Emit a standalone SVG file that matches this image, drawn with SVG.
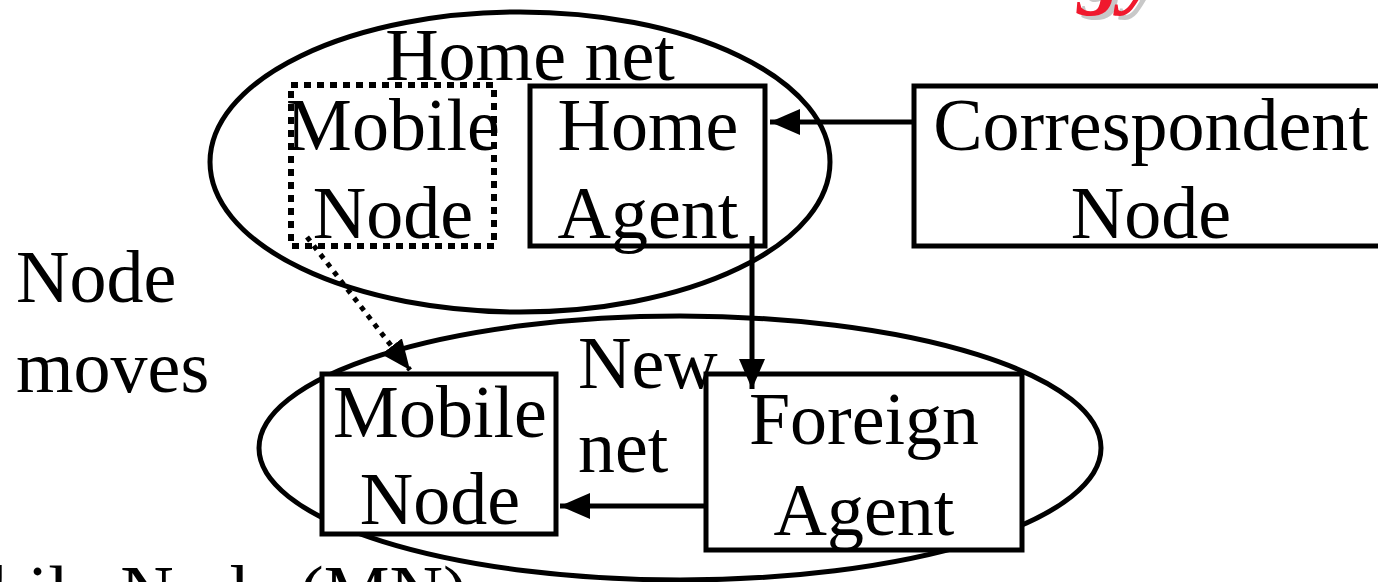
<svg xmlns="http://www.w3.org/2000/svg" width="1378" height="582" viewBox="0 0 1378 582">
<style>
.t{font-family:"Liberation Serif","Times New Roman",serif;font-size:74px;fill:#000}
.m{text-anchor:middle}
.b{fill:#fff;stroke:#000;stroke-width:5}
.e{fill:none;stroke:#000;stroke-width:5}
.c{fill:none;stroke:#000;stroke-width:5}
.r{font-family:"Liberation Serif","Times New Roman",serif;font-size:88px;font-weight:bold;font-style:italic}
</style>
<defs>
<marker id="a" viewBox="0 0 30 26" refX="30" refY="13" markerWidth="30" markerHeight="26" markerUnits="userSpaceOnUse" orient="auto">
<path d="M0,0 L30,13 L0,26 z" fill="#000"/>
</marker>
</defs>
<g id="title">
<text class="r" x="1083" y="1" fill="#c8c8c8">gy</text>
<text class="r" x="1078" y="-3" fill="#f0192d">gy</text>
</g>
<g id="home-net">
<ellipse class="e" cx="520" cy="162" rx="310" ry="150"/>
<text class="t m" x="530" y="80">Home net</text>
</g>
<g id="new-net">
<ellipse class="e" cx="680" cy="448" rx="421" ry="132"/>
<text class="t" x="578" y="388">New</text>
<text class="t" x="578" y="472">net</text>
</g>
<g id="mobile-node-home">
<rect x="291" y="85" width="203" height="161" fill="none" stroke="#000" stroke-width="6" stroke-dasharray="7,6"/>
<text class="t m" x="393" y="150">Mobile</text>
<text class="t m" x="393" y="238">Node</text>
</g>
<g id="home-agent">
<rect class="b" x="530" y="86" width="235" height="160"/>
<text class="t m" x="648" y="150">Home</text>
<text class="t m" x="648" y="238">Agent</text>
</g>
<g id="correspondent-node">
<rect class="b" x="914" y="86" width="470" height="160"/>
<text class="t m" x="1151" y="150">Correspondent</text>
<text class="t m" x="1151" y="238">Node</text>
</g>
<g id="mobile-node-new">
<rect class="b" x="322" y="374" width="234" height="160"/>
<text class="t m" x="440" y="437">Mobile</text>
<text class="t m" x="440" y="524">Node</text>
</g>
<g id="foreign-agent">
<rect class="b" x="706" y="374" width="316" height="176"/>
<text class="t m" x="864" y="444">Foreign</text>
<text class="t m" x="864" y="535">Agent</text>
</g>
<g id="labels">
<text class="t" x="16" y="302">Node</text>
<text class="t" x="16" y="392">moves</text>
<text class="t" x="-112" y="617">Mobile Node (MN)</text>
</g>
<g id="connectors">
<line class="c" x1="912" y1="122" x2="770" y2="122" marker-end="url(#a)"/>
<line class="c" x1="752" y1="236" x2="752" y2="389" marker-end="url(#a)"/>
<line class="c" x1="704" y1="506" x2="560" y2="506" marker-end="url(#a)"/>
<line x1="307" y1="237" x2="410" y2="370" stroke="#000" stroke-width="5" stroke-dasharray="5,6" marker-end="url(#a)"/>
</g>
</svg>
